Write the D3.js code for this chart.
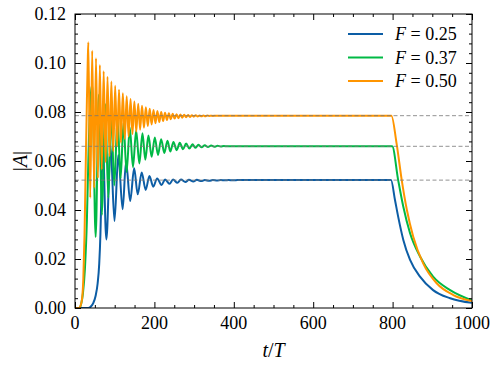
<!DOCTYPE html>
<html>
<head>
<meta charset="utf-8">
<script src="https://cdn.jsdelivr.net/npm/d3@7"></script>
</head>
<body style="margin:0">
<svg width="498" height="367"></svg>
<script>
// values: [t/T, |A|]
var blueData = [
  [0, 0], [33, 0], [40, 0.0006], [46, 0.002], [52, 0.005], [57, 0.010], [61, 0.018], [64, 0.030],
  [66, 0.043], [68, 0.058], [69.5, 0.069], [79, 0.028], [89.5, 0.066], [99.5, 0.0355], [109, 0.0624],
  [120, 0.0403], [128.5, 0.0597], [139, 0.0437], [149, 0.0570], [158, 0.0464], [168, 0.0553],
  [178, 0.0482], [187.5, 0.0539], [197, 0.0495], [207, 0.0529], [218, 0.0502], [227, 0.0525],
  [238, 0.0507], [247, 0.0524], [258, 0.0511], [267, 0.0524], [278, 0.0514], [287, 0.0523],
  [298, 0.0516], [307, 0.0523], [318, 0.0518], [327, 0.0522], [338, 0.0519], [347, 0.0522],
  [358, 0.0520], [367, 0.0522], [378, 0.0521], [387, 0.0522], [398, 0.0521], [410, 0.0522],
  [796, 0.0522], [806, 0.0441], [814, 0.0373], [827, 0.0278], [844, 0.0196], [869, 0.0128],
  [902, 0.0073], [945, 0.0040], [1000, 0.0021]
];

var greenData = [
  [0, 0], [12, 0], [16, 0.002], [20, 0.006], [25, 0.016], [30, 0.036], [34, 0.063], [38, 0.082],
  [41, 0.089], [43.6, 0.091], [52, 0.029], [60, 0.087], [68, 0.038], [76, 0.0833], [84, 0.045],
  [91, 0.080], [99, 0.050], [107, 0.0775], [115, 0.053], [122, 0.0755], [130, 0.0555], [138, 0.0737],
  [146, 0.0575], [154, 0.0724], [162, 0.059], [170, 0.0713], [177, 0.0605], [185, 0.0704],
  [193, 0.0617], [201, 0.0696], [209, 0.0625], [217, 0.0689], [225, 0.0633], [233, 0.0683],
  [240, 0.0639], [248, 0.0678], [256, 0.0644], [264, 0.0674], [272, 0.0648], [280, 0.0671],
  [288, 0.0651], [296, 0.0668], [303, 0.0654], [311, 0.0666], [319, 0.0656], [327, 0.0664],
  [335, 0.0657], [343, 0.0663], [351, 0.0658], [359, 0.0662], [367, 0.0659], [375, 0.0661],
  [383, 0.0660], [799, 0.0660], [814, 0.0522], [827, 0.0413], [844, 0.0305], [869, 0.0210],
  [902, 0.0128], [945, 0.0073], [1000, 0.0031]
];

var orangeData = [
  [0, 0], [10, 0], [14, 0.001], [18, 0.004], [21, 0.012], [24, 0.030], [27, 0.058], [30, 0.085],
  [32, 0.100], [33.6, 0.1085], [38.4, 0.045], [43.3, 0.1050], [48.1, 0.049], [52.9, 0.1019],
  [57.8, 0.053], [62.6, 0.0992], [67.4, 0.0565], [72.2, 0.0966], [77.1, 0.0595], [81.9, 0.0944],
  [86.7, 0.062], [91.6, 0.0924], [96.4, 0.064], [101.2, 0.0907], [106.0, 0.066], [110.9, 0.0891],
  [115.7, 0.0675], [120.5, 0.0877], [125.4, 0.069], [130.2, 0.0864], [135.0, 0.070], [139.9, 0.0853],
  [144.7, 0.071], [149.5, 0.0843], [154.3, 0.072], [159.2, 0.0834], [164.0, 0.0728], [168.8, 0.0826],
  [173.7, 0.0736], [178.5, 0.0819], [183.3, 0.0743], [188.2, 0.0813], [193.0, 0.0749], [197.8, 0.0808],
  [202.6, 0.0754], [207.5, 0.0804], [212.3, 0.0759], [217.1, 0.0800], [222.0, 0.0763], [226.8, 0.0797],
  [231.6, 0.0767], [236.5, 0.0795], [241.3, 0.0770], [246.1, 0.0793], [250.9, 0.0773], [255.8, 0.0791],
  [260.6, 0.0775], [265.4, 0.0790], [270.3, 0.0777], [275.1, 0.0789], [279.9, 0.0779], [284.8, 0.0788],
  [289.6, 0.0780], [294.4, 0.0787], [299.2, 0.0781], [304.1, 0.0787], [308.9, 0.0782], [313.7, 0.0786],
  [318.6, 0.0783], [323.4, 0.0786], [328.2, 0.0783], [333.1, 0.0786], [337.9, 0.0784], [342.7, 0.0785],
  [347.5, 0.0784], [352.4, 0.0785], [380, 0.0785], [797, 0.0785], [810, 0.0672], [823, 0.0522],
  [836, 0.0400], [852, 0.0291], [877, 0.0182], [911, 0.0101], [953, 0.0053], [1000, 0.0028]
];

// steady-state levels (dashed guides)
var steadyLevels = [0.0522, 0.0660, 0.0785];

var seriesNames = ["0.25", "0.37", "0.50"];
var seriesColors = ["#0C5DA5", "#00B945", "#FF9500"];

var xMajor = [0, 200, 400, 600, 800, 1000];
var yMajor = [0, 0.02, 0.04, 0.06, 0.08, 0.10, 0.12];

var margin = { top: 14, right: 26, bottom: 59, left: 75 },
    width = 498 - margin.left - margin.right,
    height = 367 - margin.top - margin.bottom;

var svg = d3.select("svg");

var x = d3.scaleLinear().domain([0, 1000]).range([margin.left, margin.left + width]);
var y = d3.scaleLinear().domain([0, 0.12]).range([margin.top + height, margin.top]);

svg.append("clipPath").attr("id", "plotclip")
  .append("rect")
  .attr("x", margin.left).attr("y", margin.top)
  .attr("width", width).attr("height", height);

var line = d3.line()
    .x(function (d) { return x(d[0]); })
    .y(function (d) { return y(d[1]); })
    .curve(d3.curveMonotoneX);

var plot = svg.append("g").attr("clip-path", "url(#plotclip)");

[blueData, greenData, orangeData].forEach(function (data, i) {
  plot.append("path")
    .datum(data)
    .attr("fill", "none")
    .attr("stroke", seriesColors[i])
    .attr("stroke-width", 2)
    .attr("stroke-linejoin", "round")
    .attr("d", line);
});

// dashed steady state lines on top
plot.selectAll("line.steady")
  .data(steadyLevels)
  .enter().append("line")
  .attr("class", "steady")
  .attr("x1", x(0)).attr("x2", x(1000))
  .attr("y1", function (d) { return y(d); })
  .attr("y2", function (d) { return y(d); })
  .attr("stroke", "#777")
  .attr("stroke-width", 1)
  .attr("stroke-opacity", 0.8)
  .attr("stroke-dasharray", "4,2.5");

// ticks point inward on all four sides; labels drawn separately
function tickAxis(sel) {
  sel.select(".domain").remove();
  sel.selectAll("text").remove();
  sel.selectAll("line").attr("stroke", "#000").attr("stroke-width", 1);
}

var xMinor = d3.range(0, 1001, 50).filter(function (v) { return xMajor.indexOf(v) < 0; });
var yMinor = d3.range(0, 31).map(function (i) { return i * 0.004; })
    .filter(function (v, i) { return i % 5 !== 0; });

var bottomY = margin.top + height, rightX = margin.left + width;

[[xMajor, 6], [xMinor, 3]].forEach(function (p) {
  svg.append("g").attr("transform", "translate(0," + bottomY + ")")
    .call(d3.axisBottom(x).tickValues(p[0]).tickSize(-p[1])).call(tickAxis);
  svg.append("g").attr("transform", "translate(0," + margin.top + ")")
    .call(d3.axisTop(x).tickValues(p[0]).tickSize(-p[1])).call(tickAxis);
});
[[yMajor, 6], [yMinor, 3]].forEach(function (p) {
  svg.append("g").attr("transform", "translate(" + margin.left + ",0)")
    .call(d3.axisLeft(y).tickValues(p[0]).tickSize(-p[1])).call(tickAxis);
  svg.append("g").attr("transform", "translate(" + rightX + ",0)")
    .call(d3.axisRight(y).tickValues(p[0]).tickSize(-p[1])).call(tickAxis);
});

// frame
svg.append("rect")
  .attr("x", margin.left).attr("y", margin.top)
  .attr("width", width).attr("height", height)
  .attr("fill", "none").attr("stroke", "#000").attr("stroke-width", 1);

// tick labels
svg.selectAll("text.xlab").data(xMajor).enter().append("text")
  .attr("class", "xlab")
  .attr("x", function (d) { return x(d); })
  .attr("y", 329)
  .attr("text-anchor", "middle")
  .style("font-family", "'Liberation Serif'")
  .style("font-size", "18px")
  .text(function (d) { return d3.format("d")(d); });

svg.selectAll("text.ylab").data(yMajor).enter().append("text")
  .attr("class", "ylab")
  .attr("x", 66)
  .attr("y", function (d) { return y(d) + 6; })
  .attr("text-anchor", "end")
  .style("font-family", "'Liberation Serif'")
  .style("font-size", "18px")
  .text(function (d) { return d3.format(".2f")(d); });

// axis labels
var xl = svg.append("text")
  .attr("x", margin.left + width / 2).attr("y", 357)
  .attr("text-anchor", "middle")
  .style("font-family", "'Liberation Serif'")
  .style("font-size", "20px");
xl.append("tspan").style("font-style", "italic").text("t");
xl.append("tspan").text("/");
xl.append("tspan").style("font-style", "italic").text("T");

var yl = svg.append("text")
  .attr("transform", "translate(27," + (margin.top + height / 2) + ") rotate(-90)")
  .attr("text-anchor", "middle")
  .style("font-family", "'Liberation Serif'")
  .style("font-size", "20px");
yl.append("tspan").text("|");
yl.append("tspan").style("font-style", "italic").text("A");
yl.append("tspan").text("|");

// legend
seriesNames.forEach(function (name, i) {
  var ly = 34 + i * 23.5;
  svg.append("line")
    .attr("x1", 348).attr("x2", 383).attr("y1", ly).attr("y2", ly)
    .attr("stroke", seriesColors[i]).attr("stroke-width", 2);
  var t = svg.append("text").attr("x", 395).attr("y", ly + 6)
    .style("font-family", "'Liberation Serif'")
    .style("font-size", "18px");
  t.append("tspan").style("font-style", "italic").text("F");
  t.append("tspan").text(" = " + name);
});
</script>
</body>
</html>
